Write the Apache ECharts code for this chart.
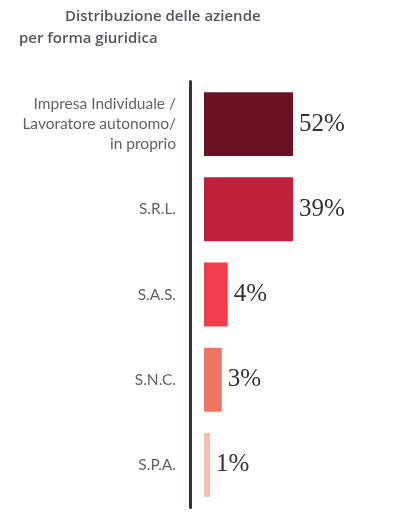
<!DOCTYPE html>
<html><head><meta charset="utf-8">
<script src="https://cdn.jsdelivr.net/npm/echarts@6/dist/echarts.min.js"></script>
<style>html,body{margin:0;padding:0;background:#fff}#c{width:420px;height:520px}</style>
</head><body><div id="c"></div>
<script>
const categories = ['Impresa Individuale /\nLavoratore autonomo/\nin proprio', 'S.R.L.', 'S.A.S.', 'S.N.C.', 'S.P.A.'];
const values = [52, 39, 4, 3, 1];
const colors = ['#6b1124', '#c0213a', '#ef3d4b', '#f07462', '#f9bda3'];
const titleLines = ['Distribuzione delle aziende', 'per forma giuridica'];

const chart = echarts.init(document.getElementById('c'), null, {renderer: 'canvas'});
chart.setOption({
  animation: false,
  backgroundColor: '#fff',
  title: [
    {text: titleLines[0], left: 60, top: 4, textStyle: {fontFamily: 'Open Sans', fontSize: 15, fontWeight: 600, color: '#55555f'}},
    {text: titleLines[1], left: 14, top: 26, textStyle: {fontFamily: 'Open Sans', fontSize: 15, fontWeight: 600, color: '#55555f'}}
  ],
  grid: {left: 204, right: 127, top: 81.5, bottom: 12.5, containLabel: false},
  xAxis: {type: 'value', min: 0, max: 15, show: false},
  yAxis: {
    type: 'category', data: categories, inverse: true, offset: 14,
    axisLine: {show: true, onZero: false, lineStyle: {color: '#2f3440', width: 3}},
    axisTick: {show: false},
    axisLabel: {margin: 14, fontFamily: 'Lato', fontSize: 15.5, fontWeight: 400, color: '#626262', lineHeight: 20, align: 'right'}
  },
  series: [{
    type: 'bar', clip: true,
    barCategoryGap: '25%',
    data: values.map((v, i) => ({value: v, itemStyle: {color: colors[i]}})),
    label: {show: true, position: 'right', distance: 6, formatter: '{c}%', fontFamily: 'Liberation Serif', fontSize: 25, color: '#333'}
  }]
});
</script></body></html>
